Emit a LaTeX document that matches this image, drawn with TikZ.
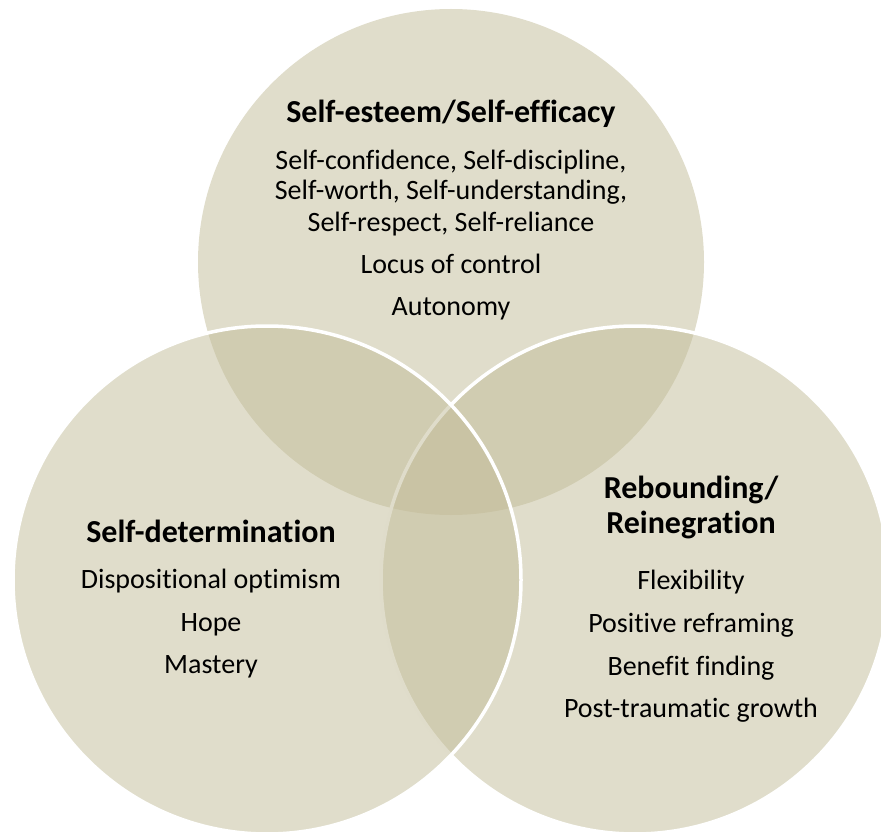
\documentclass[tikz,border=0pt]{standalone}
\usepackage{fontspec}
\setmainfont[Ligatures=NoCommon]{Carlito}
\begin{document}
\begin{tikzpicture}[x=1pt,y=-1pt,
  disc/.style={fill=discfill,fill opacity=0.5},
  rim/.style={draw=white,line width=3.5pt},
  head/.style={anchor=base,inner sep=0pt,font=\fontsize{32}{37}\selectfont\bfseries},
  item/.style={anchor=base,inner sep=0pt,font=\fontsize{28}{33}\selectfont}]
\definecolor{discfill}{RGB}{193,187,151}
\useasboundingbox (0,0) rectangle (881,832);
\clip (0,0) rectangle (881,832);
% three overlapping translucent discs
\coordinate (ctop) at (451,262);
\coordinate (cright) at (635,580);
\coordinate (cleft) at (267,580);
\fill[disc] (ctop) circle[radius=253pt];
\fill[disc] (cright) circle[radius=254pt];
\draw[rim] (cright) circle[radius=254pt];
\fill[disc] (cleft) circle[radius=254pt];
\draw[rim] (cleft) circle[radius=254pt];
% top disc text
\node[head] (th) at (451,123) {Self-esteem/Self-efficacy};
\node[item] (t1) at (451,169) {Self-confidence, Self-discipline,};
\node[item] (t2) at (451,200) {Self-worth, Self-understanding,};
\node[item] (t3) at (451,231) {Self-respect, Self-reliance};
\node[item] (t4) at (451,273) {Locus of control};
\node[item] (t5) at (451,315) {Autonomy};
% left disc text
\node[head] (lh) at (211,542) {Self-determination};
\node[item] (l1) at (211,588) {Dispositional optimism};
\node[item] (l2) at (211,631) {Hope};
\node[item] (l3) at (211,673) {Mastery};
% right disc text
\node[head] (rh1) at (691,498) {Rebounding/};
\node[head] (rh2) at (691,533) {Reinegration};
\node[item] (r1) at (691,589) {Flexibility};
\node[item] (r2) at (691,632) {Positive reframing};
\node[item] (r3) at (691,675) {Benefit finding};
\node[item] (r4) at (691,717) {Post-traumatic growth};
\end{tikzpicture}
\end{document}
